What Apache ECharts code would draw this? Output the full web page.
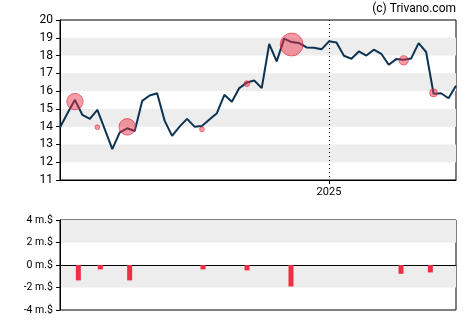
<!DOCTYPE html>
<html>
<head>
<meta charset="utf-8">
<script src="https://cdn.jsdelivr.net/npm/echarts@6/dist/echarts.min.js"></script>
<style>
  html, body { margin: 0; padding: 0; background: #fff; }
  #chart { width: 470px; height: 325px; }
</style>
</head>
<body>
<div id="chart"></div>
<script>
// Weekly closing dates
const dates = [
  '2024-04-26','2024-05-03','2024-05-10','2024-05-17','2024-05-24','2024-05-31',
  '2024-06-07','2024-06-14','2024-06-21','2024-06-28','2024-07-05','2024-07-12',
  '2024-07-19','2024-07-26','2024-08-02','2024-08-09','2024-08-16','2024-08-23',
  '2024-08-30','2024-09-06','2024-09-13','2024-09-20','2024-09-27','2024-10-04',
  '2024-10-11','2024-10-18','2024-10-25','2024-11-01','2024-11-08','2024-11-15',
  '2024-11-22','2024-11-29','2024-12-06','2024-12-13','2024-12-20','2024-12-27',
  '2025-01-03','2025-01-10','2025-01-17','2025-01-24','2025-01-31','2025-02-07',
  '2025-02-14','2025-02-21','2025-02-28','2025-03-07','2025-03-14','2025-03-21',
  '2025-03-28','2025-04-04','2025-04-11','2025-04-18','2025-04-25','2025-05-02'
];

// Weekly closing price ($)
const closePrice = [
  13.95, 14.75, 15.51, 14.66, 14.44, 14.94, 13.85, 12.74, 13.68, 13.91,
  13.76, 15.45, 15.75, 15.88, 14.34, 13.48, 14.00, 14.44, 14.00, 14.04,
  14.40, 14.76, 15.79, 15.40, 16.17, 16.48, 16.60, 16.17, 18.65, 17.67,
  18.95, 18.76, 18.70, 18.46, 18.44, 18.35, 18.80, 18.74, 17.99, 17.82,
  18.23, 18.00, 18.33, 18.10, 17.48, 17.80, 17.76, 17.84, 18.70, 18.20,
  15.85, 15.88, 15.60, 16.30
];

// Insider trades: week, trade price ($) and net value (million $)
const tradeDates  = ['2024-05-10','2024-05-31','2024-06-28','2024-09-06','2024-10-18','2024-11-29','2025-03-14','2025-04-11'];
const tradePrice  = [15.41, 13.97, 13.99, 13.85, 16.42, 18.62, 17.73, 15.90];
const tradeValue  = [-1.37, -0.39, -1.37, -0.39, -0.48, -1.91, -0.78, -0.66];

const yearMark = '2025-01-03';
const yearLabel = '2025';

const markIdx = dates.indexOf(yearMark);
const barData = dates.map(d => {
  const k = tradeDates.indexOf(d);
  return k < 0 ? null : tradeValue[k];
});
const bubbleData = tradeDates.map((d, k) => [d, tradePrice[k], tradeValue[k]]);

const font = 'Roboto, "Liberation Sans", Arial, sans-serif';
const band = ['rgba(0,0,0,0)', '#ededed'];

const chart = echarts.init(document.getElementById('chart'), null, { renderer: 'canvas' });
chart.setOption({
  animation: false,
  backgroundColor: '#fff',
  textStyle: { fontFamily: font },
  graphic: [{
    type: 'text', right: 14, top: 3,
    style: { text: '(c) Trivano.com', font: '12px ' + font, fill: '#000' }
  }],
  grid: [
    { left: 60, right: 14, top: 20, height: 160, show: true, borderColor: '#000', borderWidth: 1, backgroundColor: 'transparent' },
    { left: 60, right: 14, top: 220, height: 90, show: true, borderColor: '#000', borderWidth: 1, backgroundColor: 'transparent' }
  ],
  xAxis: [
    {
      type: 'category', gridIndex: 0, data: dates, boundaryGap: false,
      axisLine: { lineStyle: { color: '#000', width: 1 } },
      axisTick: { show: true, length: 4, interval: i => i === markIdx, lineStyle: { color: '#000' } },
      axisLabel: {
        interval: i => i === markIdx,
        formatter: v => (v === yearMark ? yearLabel : ''),
        color: '#000', fontSize: 11, margin: 7, fontFamily: font
      },
      splitLine: { show: true, interval: i => i === markIdx, lineStyle: { color: '#000', type: [1, 3], width: 1 } }
    },
    {
      type: 'category', gridIndex: 1, data: dates, boundaryGap: true,
      axisLine: { onZero: true, lineStyle: { color: '#000', width: 1 } },
      axisTick: { show: false }, axisLabel: { show: false }, splitLine: { show: false }
    }
  ],
  yAxis: [
    {
      type: 'value', gridIndex: 0, min: 11, max: 20, interval: 1,
      axisLine: { show: true, lineStyle: { color: '#000' } },
      axisTick: { show: true, length: 4, lineStyle: { color: '#000' } },
      axisLabel: { color: '#000', fontSize: 12, margin: 7, fontFamily: font },
      splitLine: { show: false },
      splitArea: { show: true, areaStyle: { color: band } }
    },
    {
      type: 'value', gridIndex: 1, min: -4, max: 4, interval: 2,
      axisLine: { show: true, lineStyle: { color: '#000' } },
      axisTick: { show: true, length: 4, lineStyle: { color: '#000' } },
      axisLabel: { color: '#000', fontSize: 10.5, margin: 7, fontFamily: font, formatter: v => v + ' m.$' },
      splitLine: { show: false },
      splitArea: { show: true, areaStyle: { color: band } }
    }
  ],
  series: [
    {
      type: 'line', xAxisIndex: 0, yAxisIndex: 0, data: closePrice,
      showSymbol: false, symbol: 'none',
      lineStyle: { color: '#0d3352', width: 2 }, z: 3
    },
    {
      type: 'scatter', xAxisIndex: 0, yAxisIndex: 0, data: bubbleData,
      symbolSize: d => Math.abs(d[2]) * 12,
      itemStyle: { color: 'rgba(236,48,70,0.6)', borderColor: 'rgba(225,40,60,0.8)', borderWidth: 1 },
      z: 4
    },
    {
      type: 'bar', xAxisIndex: 1, yAxisIndex: 1, data: barData,
      barWidth: 5, itemStyle: { color: '#ee2e45' }
    }
  ]
});
</script>
</body>
</html>
